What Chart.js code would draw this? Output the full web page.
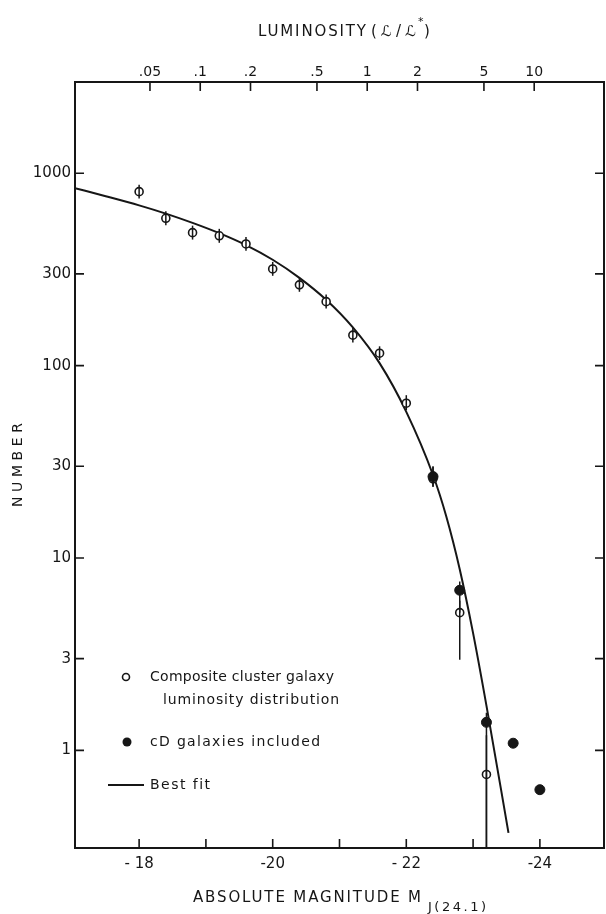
<!DOCTYPE html>
<html>
<head>
<meta charset="utf-8">
<script src="https://cdn.jsdelivr.net/npm/chart.js@4.4.1/dist/chart.umd.min.js"></script>
<style>
  html, body { margin: 0; padding: 0; background: #fff; }
  #c { display: block; }
</style>
</head>
<body>
<canvas id="c" width="606" height="914" style="width:606px;height:914px"></canvas>
<script>
const INK = "#161616";
const FONT = "'DejaVu Sans', sans-serif";

// axis limits
const magMin = -24.96, magMax = -17.04;   // absolute magnitude (drawn reversed)
const numMin = 0.311, numMax = 2980;      // number (log)
const magStar = -21.415;                  // magnitude where L/L* = 1
const lumMin = Math.pow(10, -0.4 * (magMax - magStar));
const lumMax = Math.pow(10, -0.4 * (magMin - magStar));

// ticks
const magTicks = [-18, -19, -20, -21, -22, -23, -24];
const magLabels = ["- 18", "", "-20", "", "- 22", "", "-24"];
const numTicks = [1, 3, 10, 30, 100, 300, 1000];
const numLabels = ["1", "3", "10", "30", "100", "300", "1000"];
const lumTicks = [0.05, 0.1, 0.2, 0.5, 1, 2, 5, 10];
const lumLabels = [".05", ".1", ".2", ".5", "1", "2", "5", "10"];

// composite cluster galaxy luminosity distribution (open circles)
const compMag = [-18.0, -18.4, -18.8, -19.2, -19.6, -20.0, -20.4, -20.8, -21.2, -21.6, -22.0, -22.4, -22.8, -23.2];
const compNum = [802, 583, 491, 473, 429, 318, 263, 215, 144, 116, 63.8, 25.8, 5.2, 0.75];
const compLo  = [738, 536, 452, 435, 395, 293, 242, 198, 132, 107, 58.7, 23.5, 2.96, 0.05];
const compHi  = [872, 634, 534, 514, 466, 346, 286, 234, 157, 126, 70.2, 29.9, 6.0, 1.2];

// cD galaxies included (filled)
const cdMag = [-22.4, -22.8, -23.2, -23.6, -24.0];
const cdNum = [26.5, 6.8, 1.4, 1.09, 0.625];
const cdLo  = [23.5, 5.2, 0.05, null, null];
const cdHi  = [29.9, 7.55, 1.57, null, null];

// best fit curve
const fitMag = [-17.04, -17.5, -18.0, -18.4, -18.8, -19.2, -19.6, -20.0, -20.4, -20.8, -21.2, -21.6, -22.0, -22.4, -22.6, -22.8, -23.0, -23.2, -23.53];
const fitNum = [837, 760, 681, 617, 552, 488, 423, 355, 286, 220, 158, 103, 57.5, 27.0, 16.4, 8.75, 4.07, 1.71, 0.373];

function pts(xs, ys){ return xs.map((v, i) => ({ x: v, y: ys[i] })); }

// text with letter spacing stretched to a given width (left aligned)
function spaced(ctx, text, x, y, width){
  ctx.letterSpacing = "0px";
  const w0 = ctx.measureText(text).width;
  const sp = text.length > 1 ? Math.max(0, (width - w0) / (text.length - 1)) : 0;
  ctx.letterSpacing = sp.toFixed(2) + "px";
  ctx.textAlign = "left";
  ctx.fillText(text, x, y);
  ctx.letterSpacing = "0px";
}

const errorBars = {
  id: "errorBars",
  afterDatasetsDraw(chart){
    const { ctx, chartArea: a, scales: { x, y } } = chart;
    ctx.save();
    ctx.beginPath();
    ctx.rect(a.left, a.top, a.right - a.left, a.bottom - a.top);
    ctx.clip();
    ctx.strokeStyle = INK;
    ctx.lineWidth = 1.5;
    const draw = (mags, lo, hi) => mags.forEach((m, i) => {
      if (lo[i] == null) return;
      const px = x.getPixelForValue(m);
      ctx.beginPath();
      ctx.moveTo(px, y.getPixelForValue(lo[i]));
      ctx.lineTo(px, y.getPixelForValue(hi[i]));
      ctx.stroke();
    });
    draw(compMag, compLo, compHi);
    draw(cdMag, cdLo, cdHi);
    ctx.restore();
  }
};

const frame = {
  id: "frame",
  afterDraw(chart){
    const { ctx, chartArea: a, scales } = chart;
    const tl = 9;
    ctx.save();
    ctx.strokeStyle = INK;
    ctx.fillStyle = INK;
    ctx.lineWidth = 2;
    ctx.strokeRect(a.left, a.top, a.right - a.left, a.bottom - a.top);

    // inward tick marks
    ctx.lineWidth = 1.6;
    ctx.beginPath();
    scales.y.ticks.forEach(t => {
      const py = scales.y.getPixelForValue(t.value);
      ctx.moveTo(a.left, py); ctx.lineTo(a.left + tl, py);
      ctx.moveTo(a.right, py); ctx.lineTo(a.right - tl, py);
    });
    scales.x.ticks.forEach(t => {
      const px = scales.x.getPixelForValue(t.value);
      ctx.moveTo(px, a.bottom); ctx.lineTo(px, a.bottom - tl);
    });
    scales.lum.ticks.forEach(t => {
      const px = scales.lum.getPixelForValue(t.value);
      ctx.moveTo(px, a.top); ctx.lineTo(px, a.top + tl);
    });
    ctx.stroke();

    // axis titles
    ctx.textBaseline = "middle";
    ctx.font = "15px " + FONT;
    spaced(ctx, "LUMINOSITY", 258, 32, 108);
    spaced(ctx, "(\u2112/\u2112", 371, 32, 45);
    ctx.font = "11px " + FONT;
    ctx.fillText("*", 418, 22);
    ctx.font = "15px " + FONT;
    ctx.fillText(")", 424, 32);

    spaced(ctx, "ABSOLUTE MAGNITUDE M", 193, 898, 228);
    ctx.font = "13px " + FONT;
    spaced(ctx, "J(24.1)", 428, 908, 58);

    ctx.save();
    ctx.font = "14px " + FONT;
    ctx.translate(18, 507);
    ctx.rotate(-Math.PI / 2);
    spaced(ctx, "NUMBER", 0, 0, 84);
    ctx.restore();

    // legend
    ctx.font = "14px " + FONT;
    spaced(ctx, "Composite cluster galaxy", 150, 677, 184);
    spaced(ctx, "luminosity distribution", 163, 700, 176);
    spaced(ctx, "cD galaxies included", 150, 742, 170);
    spaced(ctx, "Best fit", 150, 785, 60);

    ctx.lineWidth = 1.6;
    ctx.fillStyle = "#fff";
    ctx.beginPath(); ctx.arc(126, 677, 3.5, 0, Math.PI * 2); ctx.fill(); ctx.stroke();
    ctx.fillStyle = INK;
    ctx.beginPath(); ctx.arc(127, 742, 4.5, 0, Math.PI * 2); ctx.fill();
    ctx.lineWidth = 2;
    ctx.beginPath(); ctx.moveTo(108, 785); ctx.lineTo(144, 785); ctx.stroke();
    ctx.restore();
  }
};

const tickFont = size => ({ family: FONT, size: size });

// fixed axis band sizes, no extra label overhang padding
const fixSize = (w, h) => s => {
  if (w != null) s.width = w;
  if (h != null) s.height = h;
  s.paddingLeft = 0; s.paddingRight = 0; s.paddingTop = 0; s.paddingBottom = 0;
};

new Chart(document.getElementById("c"), {
  type: "scatter",
  data: {
    datasets: [
      {
        label: "cD galaxies included",
        data: pts(cdMag, cdNum),
        pointRadius: 5,
        pointBackgroundColor: INK,
        pointBorderColor: INK,
        pointBorderWidth: 1
      },
      {
        label: "Composite cluster galaxy luminosity distribution",
        data: pts(compMag, compNum),
        pointRadius: 4,
        pointBackgroundColor: "#fff",
        pointBorderColor: INK,
        pointBorderWidth: 1.6
      },
      {
        label: "Best fit",
        data: pts(fitMag, fitNum),
        showLine: true,
        pointRadius: 0,
        borderColor: INK,
        borderWidth: 2,
        cubicInterpolationMode: "monotone"
      }
    ]
  },
  options: {
    responsive: false,
    animation: false,
    devicePixelRatio: 1,
    layout: { autoPadding: false, padding: { left: 0, right: 2, top: 0, bottom: 0 } },
    plugins: { legend: { display: false }, tooltip: { enabled: false } },
    scales: {
      x: {
        type: "linear", position: "bottom", reverse: true,
        min: magMin, max: magMax, bounds: "data",
        grid: { display: false, drawTicks: false }, border: { display: false },
        afterBuildTicks: s => { s.ticks = magTicks.map(v => ({ value: v })); },
        afterFit: fixSize(null, 66),
        ticks: { autoSkip: false, maxRotation: 0, padding: 7, color: INK, font: tickFont(15),
                 callback: (v, i) => magLabels[i] }
      },
      lum: {
        type: "logarithmic", axis: "x", position: "top",
        min: lumMin, max: lumMax, bounds: "data",
        grid: { display: false, drawTicks: false }, border: { display: false },
        afterBuildTicks: s => { s.ticks = lumTicks.map(v => ({ value: v })); },
        afterFit: fixSize(null, 82),
        ticks: { autoSkip: false, maxRotation: 0, padding: 1, color: INK, font: tickFont(14),
                 callback: (v, i) => lumLabels[i] }
      },
      y: {
        type: "logarithmic", position: "left",
        min: numMin, max: numMax, bounds: "data",
        grid: { display: false, drawTicks: false }, border: { display: false },
        afterBuildTicks: s => { s.ticks = numTicks.map(v => ({ value: v })); },
        afterFit: fixSize(75, null),
        ticks: { autoSkip: false, padding: 4, color: INK, font: tickFont(15),
                 callback: (v, i) => numLabels[i] }
      }
    }
  },
  plugins: [errorBars, frame]
});
</script>
</body>
</html>
